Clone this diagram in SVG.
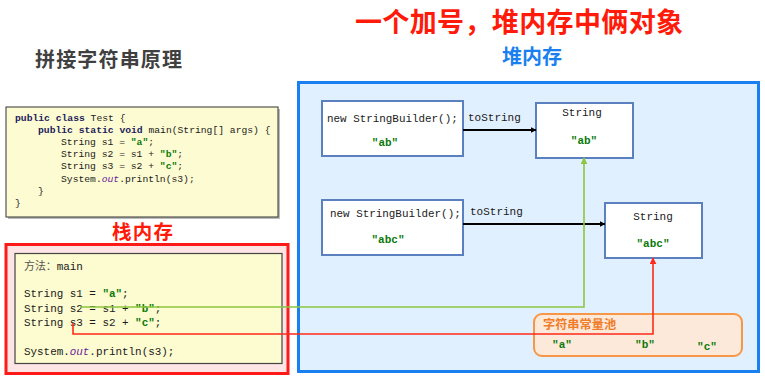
<svg xmlns="http://www.w3.org/2000/svg" width="765" height="380" viewBox="0 0 765 380">
<defs>
<style>
.cjk{font-family:"Noto Sans CJK SC","Noto Sans",sans-serif;font-weight:bold}
.mono{font-family:"Liberation Mono","DejaVu Sans Mono",monospace;fill:#1a1a1a}
.str{fill:#0a7a0a;font-weight:bold}
.kw{fill:#1a1a5a;font-weight:bold}
.fld{fill:#6a1a9a;font-style:italic}
.node{fill:#ffffff;stroke:#5a80c0;stroke-width:2}
</style>
<marker id="ab" viewBox="0 0 10 10" refX="9" refY="5" markerWidth="6" markerHeight="6" markerUnits="userSpaceOnUse" orient="auto"><path d="M0,0L10,5L0,10z" fill="#000"/></marker>
<marker id="ag" viewBox="0 0 10 10" refX="9" refY="5" markerWidth="7" markerHeight="7" markerUnits="userSpaceOnUse" orient="auto"><path d="M0,0L10,5L0,10z" fill="#8cc63f"/></marker>
<marker id="ar" viewBox="0 0 10 10" refX="9" refY="5" markerWidth="7" markerHeight="7" markerUnits="userSpaceOnUse" orient="auto"><path d="M0,0L10,5L0,10z" fill="#ff2a1a"/></marker>
</defs>
<rect width="765" height="380" fill="#ffffff"/>

<g id="titles">
<text class="cjk" x="355" y="32" font-size="27" fill="#ff1a0a" textLength="328">一个加号，堆内存中俩对象</text>
<text class="cjk" x="35" y="67" font-size="20" fill="#404040" textLength="147">拼接字符串原理</text>
</g>

<g id="code-box">
<rect x="8" y="109" width="272" height="110" fill="#bbbbbb"/>
<rect x="6" y="107" width="272" height="110" fill="#fdfbd2" stroke="#333" stroke-width="1"/>
<g class="mono" font-size="9.7">
<text x="15" y="120.5"><tspan class="kw">public class</tspan> Test {</text>
<text x="38" y="132.7"><tspan class="kw">public static void</tspan> main(String[] args) {</text>
<text x="61" y="144.9">String s1 = <tspan class="str">"a"</tspan>;</text>
<text x="61" y="157.1">String s2 = s1 + <tspan class="str">"b"</tspan>;</text>
<text x="61" y="169.3">String s3 = s2 + <tspan class="str">"c"</tspan>;</text>
<text x="61" y="181.5">System.<tspan class="fld">out</tspan>.println(s3);</text>
<text x="38" y="193.7">}</text>
<text x="15" y="205.9">}</text>
</g>
</g>

<g id="stack">
<text class="cjk" x="112" y="239" font-size="19.5" fill="#ff1a0a" textLength="61">栈内存</text>
<rect x="6" y="244.5" width="282" height="129" fill="#fde5e5" stroke="#ff1a1a" stroke-width="3"/>
<rect x="15" y="253.5" width="267" height="110" fill="#fdfbd0" stroke="#444" stroke-width="1.2"/>
<g class="mono" font-size="10.9">
<text x="24" y="270"><tspan font-family="Noto Sans CJK SC,sans-serif" fill="#555">方法：</tspan>main</text>
<text x="24" y="297">String s1 = <tspan class="str">"a"</tspan>;</text>
<text x="24" y="312">String s2 = s1 + <tspan class="str">"b"</tspan>;</text>
<text x="24" y="326">String s3 = s2 + <tspan class="str">"c"</tspan>;</text>
<text x="24" y="355">System.<tspan class="fld">out</tspan>.println(s3);</text>
</g>
</g>

<g id="heap">
<rect x="298.5" y="82.5" width="460" height="289" fill="#e1f0fe" stroke="#1a7ff0" stroke-width="3"/>
<text class="cjk" x="502" y="64" font-size="20" fill="#1a7ff0" textLength="60">堆内存</text>
</g>

<g id="sb1">
<rect class="node" x="322" y="101" width="141" height="55"/>
<text class="mono" x="327" y="122" font-size="10.9">new StringBuilder();</text>
<text class="mono str" x="385" y="146" font-size="11" text-anchor="middle">"ab"</text>
</g>

<g id="str-ab">
<rect class="node" x="536" y="103" width="97" height="55"/>
<text class="mono" x="582" y="116" font-size="11" text-anchor="middle">String</text>
<text class="mono str" x="584" y="144" font-size="11" text-anchor="middle">"ab"</text>
</g>

<g id="sb2">
<rect class="node" x="322" y="200" width="141" height="55"/>
<text class="mono" x="330" y="217" font-size="10.9">new StringBuilder();</text>
<text class="mono str" x="388" y="243" font-size="11" text-anchor="middle">"abc"</text>
</g>

<g id="str-abc">
<rect class="node" x="605" y="203" width="97" height="55"/>
<text class="mono" x="653" y="220" font-size="11" text-anchor="middle">String</text>
<text class="mono str" x="653" y="247" font-size="11" text-anchor="middle">"abc"</text>
</g>

<g id="pool">
<rect x="534" y="314" width="208" height="42" rx="8" fill="#fde9d9" stroke="#f79646" stroke-width="2"/>
<text class="cjk" x="543" y="329" font-size="12.2" fill="#f07c28">字符串常量池</text>
<text class="mono str" x="562" y="348" font-size="11" text-anchor="middle">"a"</text>
<text class="mono str" x="645" y="348" font-size="11" text-anchor="middle">"b"</text>
<text class="mono str" x="707" y="350" font-size="11" text-anchor="middle">"c"</text>
</g>

<g id="connectors" fill="none">
<line x1="463" y1="130" x2="536" y2="130" stroke="#000" stroke-width="2" marker-end="url(#ab)"/>
<text class="mono" x="468" y="121" font-size="11">toString</text>
<line x1="463" y1="224" x2="605" y2="224" stroke="#000" stroke-width="2" marker-end="url(#ab)"/>
<text class="mono" x="470" y="215" font-size="11">toString</text>
<path d="M80,307H584V158" stroke="#8cc63f" stroke-width="1.6" marker-end="url(#ag)"/>
<path d="M73,323V334H653V258" stroke="#ff2a1a" stroke-width="1.6" marker-end="url(#ar)"/>
</g>
</svg>
